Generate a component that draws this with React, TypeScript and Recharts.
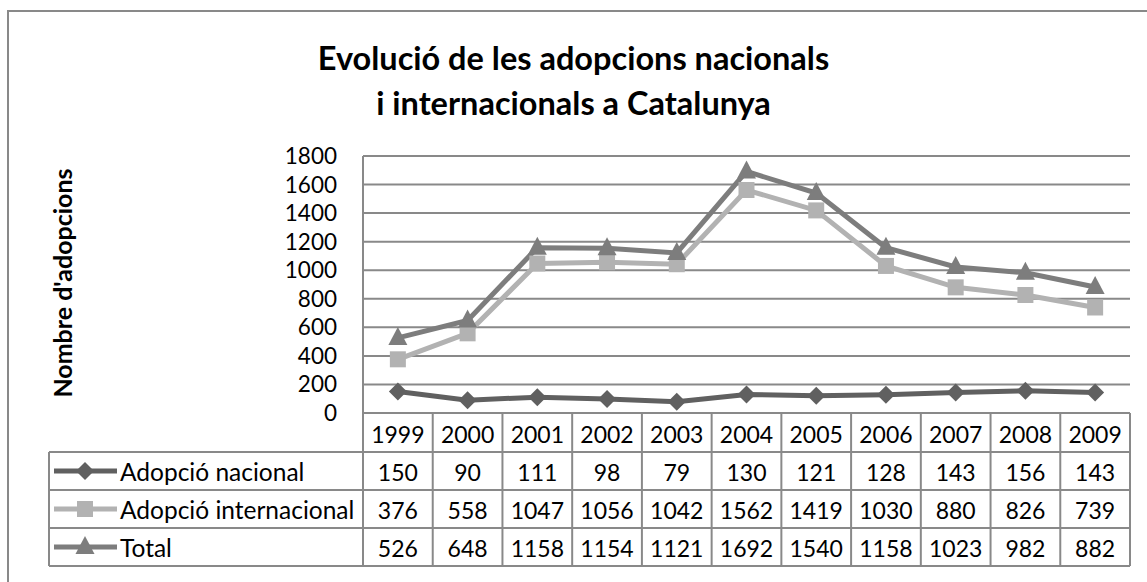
import React from "react";
import { LineChart, Line, XAxis, YAxis, CartesianGrid } from "recharts";

const years = ["1999", "2000", "2001", "2002", "2003", "2004", "2005", "2006", "2007", "2008", "2009"];
const nacional = [150, 90, 111, 98, 79, 130, 121, 128, 143, 156, 143];
const internacional = [376, 558, 1047, 1056, 1042, 1562, 1419, 1030, 880, 826, 739];
const total = [526, 648, 1158, 1154, 1121, 1692, 1540, 1158, 1023, 982, 882];
const yTicks = [0, 200, 400, 600, 800, 1000, 1200, 1400, 1600, 1800];

const FONT = "Lato, 'Open Sans', sans-serif";
const GRID = "#898989";
const C_NAC = "#606060";
const C_INT = "#b2b2b2";
const C_TOT = "#7d7d7d";

const PLOT_L = 363;
const PLOT_R = 1130;
const PLOT_T = 156;
const PLOT_B = 413;
const COL_W = (PLOT_R - PLOT_L) / years.length;
const ROWS = [413, 452, 490, 528, 566];
const TABLE_L = 49;

const data = years.map((y, i) => ({
  year: y,
  nacional: nacional[i],
  internacional: internacional[i],
  total: total[i],
}));

type Shape = "diamond" | "square" | "triangle";

function markerPath(shape: Shape, cx: number, cy: number) {
  if (shape === "diamond") return `M${cx},${cy - 9}L${cx + 9},${cy}L${cx},${cy + 9}L${cx - 9},${cy}Z`;
  if (shape === "square") return `M${cx - 8},${cy - 8}h16v16h-16Z`;
  return `M${cx},${cy - 11}L${cx + 9.5},${cy + 7}L${cx - 9.5},${cy + 7}Z`;
}

const makeDot = (shape: Shape, color: string) => (props: any) => {
  const { cx, cy, index } = props;
  if (cx == null || cy == null) return <g key={index} />;
  return <path key={index} d={markerPath(shape, cx, cy)} fill={color} />;
};

const series = [
  { key: "nacional", label: "Adopció nacional", values: nacional, color: C_NAC, shape: "diamond" as Shape },
  { key: "internacional", label: "Adopció internacional", values: internacional, color: C_INT, shape: "square" as Shape },
  { key: "total", label: "Total", values: total, color: C_TOT, shape: "triangle" as Shape },
];

function DataTable() {
  const cols = years.map((_, k) => PLOT_L + k * COL_W);
  return (
    <svg width={1147} height={582} style={{ position: "absolute", left: 0, top: 0 }}>
      {[...cols, PLOT_R].map((x, k) => (
        <line key={"v" + k} x1={x} x2={x} y1={ROWS[0]} y2={ROWS[4]} stroke={GRID} strokeWidth={2} />
      ))}
      <line x1={TABLE_L} x2={TABLE_L} y1={ROWS[1]} y2={ROWS[4]} stroke={GRID} strokeWidth={2} />
      {ROWS.map((y, k) => (
        <line key={"h" + k} x1={k === 0 ? PLOT_L : TABLE_L} x2={PLOT_R} y1={y} y2={y} stroke={GRID} strokeWidth={2} />
      ))}
      {years.map((y, k) => (
        <text key={"y" + k} x={cols[k] + COL_W / 2} y={(ROWS[0] + ROWS[1]) / 2 + 1} textAnchor="middle" dominantBaseline="central" fontSize={23} fontFamily={FONT} fill="#000">
          {y}
        </text>
      ))}
      {series.map((s, r) => {
        const cy = (ROWS[r + 1] + ROWS[r + 2]) / 2;
        return (
          <g key={s.key}>
            <line x1={54} x2={117} y1={cy} y2={cy} stroke={s.color} strokeWidth={5} />
            <path d={markerPath(s.shape, 85, cy)} fill={s.color} />
            <text x={120} y={cy} dominantBaseline="central" fontSize={24.5} fontFamily={FONT} fill="#000">
              {s.label}
            </text>
            {s.values.map((v, k) => (
              <text key={k} x={cols[k] + COL_W / 2} y={cy + 1} textAnchor="middle" dominantBaseline="central" fontSize={23} fontFamily={FONT} fill="#000">
                {v}
              </text>
            ))}
          </g>
        );
      })}
    </svg>
  );
}

export default function App() {
  return (
    <div style={{ position: "absolute", left: 0, top: 0, width: 1147, height: 582, overflow: "hidden", background: "#fff", fontFamily: FONT }}>
      <div style={{ position: "absolute", left: 7, top: 10, width: 1200, height: 700, border: `2px solid ${GRID}` }} />
      <div style={{ position: "absolute", left: 0, top: 35, width: 1147, textAlign: "center", fontWeight: 700, fontSize: 32.5, lineHeight: "45px", color: "#000" }}>
        Evolució de les adopcions nacionals
        <br />
        i internacionals a Catalunya
      </div>
      <div
        style={{
          position: "absolute",
          left: 62,
          top: 283,
          transform: "translate(-50%, -50%) rotate(-90deg)",
          whiteSpace: "nowrap",
          fontWeight: 700,
          fontSize: 25,
          color: "#000",
        }}
      >
        Nombre d'adopcions
      </div>
      <div style={{ position: "absolute", left: 0, top: 0 }}>
        <LineChart width={1147} height={582} data={data} margin={{ top: PLOT_T, right: 1147 - PLOT_R, bottom: 582 - PLOT_B, left: PLOT_L - 60 }}>
          <CartesianGrid vertical={false} stroke={GRID} strokeWidth={2} />
          <XAxis dataKey="year" hide padding={{ left: COL_W / 2, right: COL_W / 2 }} />
          <YAxis
            width={60}
            domain={[0, 1800]}
            ticks={yTicks}
            interval={0}
            tickLine={false}
            tickSize={0}
            tickMargin={26}
            axisLine={{ stroke: GRID, strokeWidth: 2 }}
            tick={{ fill: "#000", fontSize: 22.5, fontFamily: FONT }}
          />
          {series.map((s) => (
            <Line
              key={s.key}
              dataKey={s.key}
              type="linear"
              stroke={s.color}
              strokeWidth={5}
              dot={makeDot(s.shape, s.color)}
              activeDot={false}
              isAnimationActive={false}
            />
          ))}
        </LineChart>
      </div>
      <DataTable />
    </div>
  );
}
